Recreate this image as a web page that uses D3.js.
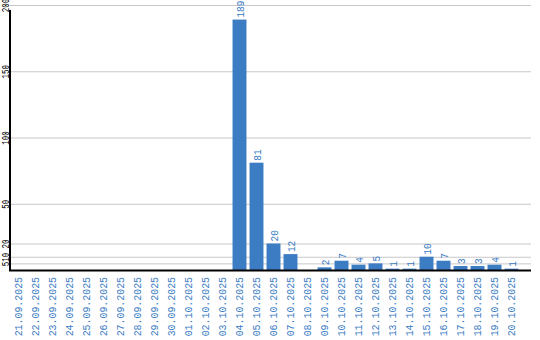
<!DOCTYPE html>
<html>
<head>
<meta charset="utf-8">
<script src="https://cdn.jsdelivr.net/npm/d3@7"></script>
<style>
body { margin: 0; background: #fff; }
</style>
</head>
<body>
<script>
var dates = ["21.09.2025","22.09.2025","23.09.2025","24.09.2025","25.09.2025","26.09.2025","27.09.2025","28.09.2025","29.09.2025","30.09.2025","01.10.2025","02.10.2025","03.10.2025","04.10.2025","05.10.2025","06.10.2025","07.10.2025","08.10.2025","09.10.2025","10.10.2025","11.10.2025","12.10.2025","13.10.2025","14.10.2025","15.10.2025","16.10.2025","17.10.2025","18.10.2025","19.10.2025","20.10.2025"];
var counts = [0,0,0,0,0,0,0,0,0,0,0,0,0,189,81,20,12,0,2,7,4,5,1,1,10,7,3,3,4,1];
var yTicks = [5,10,20,50,100,150,200];

var blue = "#3b7cc3";
var font = "Liberation Mono, monospace";
var svg = d3.select("body").append("svg").attr("width", 540).attr("height", 340);

var x = d3.scaleBand().domain(dates).range([10, 520]).paddingInner(0.18).paddingOuter(0.09);
var y = d3.scaleLinear().domain([0, 200]).range([270, 5]);

// lignes de grille
svg.selectAll("line.grid").data(yTicks).enter().append("line")
    .attr("x1", 10).attr("x2", 531)
    .attr("y1", function(d){ return y(d) + 0.5; }).attr("y2", function(d){ return y(d) + 0.5; })
    .attr("stroke", "#c8c8c8").attr("stroke-width", 1);

// étiquettes de l'axe y (police étroite)
svg.selectAll("text.ylab").data(yTicks).enter().append("text")
    .attr("transform", function(d){ return "translate(9," + (y(d) + 0.5) + ") rotate(-90) scale(0.75,1)"; })
    .attr("text-anchor", "middle")
    .attr("font-family", font).attr("font-size", 10)
    .attr("fill", "#000")
    .text(function(d){ return d; });

// barres
svg.selectAll("rect.bar").data(counts).enter().append("rect")
    .attr("x", function(d, i){ return x(dates[i]); })
    .attr("y", function(d){ return y(d); })
    .attr("width", x.bandwidth())
    .attr("height", function(d){ return 270 - y(d); })
    .attr("fill", blue);

// valeurs au-dessus des barres (seulement > 0)
var vals = [];
counts.forEach(function(d, i){ if (d > 0) vals.push({d: dates[i], v: d}); });
svg.selectAll("text.val").data(vals).enter().append("text")
    .attr("transform", function(o){ return "translate(" + (x(o.d) + x.bandwidth()/2 + 4) + "," + (y(o.v) - 2) + ") rotate(-90) scale(0.86,1)"; })
    .attr("text-anchor", "start")
    .attr("font-family", font).attr("font-size", 11)
    .attr("fill", blue)
    .text(function(o){ return o.v; });

// axes
svg.append("line").attr("x1", 10).attr("x2", 10).attr("y1", 10).attr("y2", 271)
    .attr("stroke", "#000").attr("stroke-width", 2);
svg.append("line").attr("x1", 9).attr("x2", 531).attr("y1", 270.5).attr("y2", 270.5)
    .attr("stroke", "#000").attr("stroke-width", 2);

// étiquettes des dates
svg.selectAll("text.xlab").data(dates).enter().append("text")
    .attr("transform", function(d){ return "translate(" + (x(d) + x.bandwidth()/2 + 3.5) + ",277) rotate(-90) scale(0.9,1)"; })
    .attr("text-anchor", "end")
    .attr("font-family", font).attr("font-size", 11)
    .attr("fill", blue)
    .text(function(d){ return d; });
</script>
</body>
</html>
